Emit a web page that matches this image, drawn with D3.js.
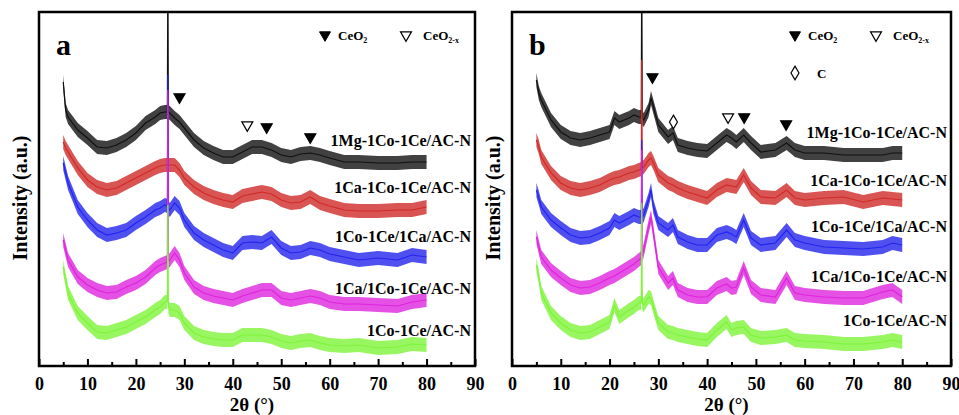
<!DOCTYPE html>
<html>
<head>
<meta charset="utf-8">
<script src="https://cdn.jsdelivr.net/npm/d3@7"></script>
<style>
  body { margin: 0; background: #fff; }
  text { font-family: "Liberation Serif", "Times New Roman", serif; font-weight: bold; }
</style>
</head>
<body>
<div class="chart"></div>
<script>
// 2theta grids (deg)
var thetaA = [5, 5.5, 6, 8, 10, 12, 14, 16, 18, 20, 22, 24, 25, 26, 26.5, 26.6, 26.7, 27, 28, 29,
  30, 32, 34, 36, 38, 40, 42, 44, 46, 48, 50, 52, 54, 56, 58, 60, 63, 66, 70, 74, 77, 80]
var thetaB = [5, 5.5, 6, 8, 10, 12, 14, 16, 18, 20, 21, 22, 24, 25, 26, 26.5, 26.6, 26.7, 27, 28,
  28.5, 29, 30, 32, 33, 34, 36, 38, 40, 42, 44, 45, 46, 47.5, 49, 51, 54, 56.3, 58, 60, 64, 68, 72, 76, 78, 80]

var seriesNames = ['1Mg-1Co-1Ce/AC-N', '1Ca-1Co-1Ce/AC-N', '1Co-1Ce/1Ca/AC-N', '1Ca/1Co-1Ce/AC-N', '1Co-1Ce/AC-N']
var seriesColors = ['#111111', '#d02a28', '#2424ee', '#de24de', '#7ef43a']

// stacked intensities (a.u., offsets included), panel a
var mgA = [284, 256, 249, 236, 228, 219, 218, 221, 226, 233, 243, 249, 253, 254, 254, 420, 254, 253, 248, 244,
  238, 226, 218, 213, 209, 209, 214, 219, 219, 216, 211, 209, 212, 213, 211, 208, 204, 204, 203, 203, 204, 204]
var caA = [224, 218, 214, 198, 186, 179, 176, 178, 183, 188, 193, 198, 200, 201, 201, 266, 201, 201, 201, 196,
  188, 179, 173, 169, 166, 164, 170, 172, 174, 172, 166, 163, 164, 169, 163, 160, 156, 155, 155, 156, 156, 159]
var coCaA = [203, 193, 183, 159, 146, 136, 131, 133, 136, 143, 149, 156, 158, 161, 160, 291, 158, 156, 163, 158,
  146, 133, 126, 121, 116, 113, 123, 124, 123, 129, 118, 113, 114, 118, 116, 112, 109, 106, 108, 106, 111, 109]
var caCoA = [126, 116, 106, 89, 81, 76, 73, 74, 79, 83, 89, 98, 101, 103, 104, 276, 105, 106, 113, 106,
  93, 79, 73, 70, 68, 66, 70, 73, 76, 76, 68, 66, 68, 70, 68, 64, 62, 62, 61, 60, 64, 66]
var coA = [99, 86, 73, 53, 43, 34, 33, 36, 39, 44, 49, 56, 59, 64, 64, 161, 60, 56, 56, 53,
  43, 33, 29, 27, 26, 26, 31, 31, 31, 29, 25, 23, 25, 26, 23, 21, 20, 21, 18, 19, 22, 21]

// panel b
var mgB = [286, 273, 266, 246, 234, 228, 226, 228, 231, 234, 248, 244, 248, 251, 249, 249, 420, 248, 246, 256,
  268, 259, 241, 229, 233, 221, 218, 216, 215, 223, 231, 228, 224, 231, 223, 214, 216, 223, 216, 213, 213, 211, 211, 211, 213, 213]
var caB = [226, 219, 209, 193, 183, 178, 176, 178, 181, 186, 188, 189, 193, 194, 196, 197, 306, 198, 199, 206,
  208, 203, 191, 183, 181, 178, 174, 171, 168, 176, 181, 180, 179, 191, 178, 169, 168, 176, 168, 166, 168, 169, 164, 168, 167, 166]
var coCaB = [176, 168, 159, 146, 138, 131, 128, 129, 133, 138, 146, 143, 148, 151, 149, 149, 226, 149, 151, 166,
  176, 159, 143, 136, 141, 129, 124, 121, 121, 131, 134, 132, 129, 146, 128, 121, 123, 136, 126, 123, 119, 118, 117, 119, 123, 121]
var caCoB = [129, 119, 109, 96, 88, 81, 78, 79, 83, 88, 90, 93, 99, 102, 106, 108, 216, 110, 116, 139,
  149, 133, 99, 83, 88, 76, 71, 69, 69, 78, 82, 78, 79, 98, 79, 71, 69, 88, 73, 71, 69, 68, 68, 74, 76, 69]
var coB = [101, 89, 73, 53, 43, 36, 33, 34, 39, 44, 61, 49, 56, 59, 63, 63, 163, 63, 61, 69,
  68, 59, 43, 34, 33, 31, 29, 27, 26, 36, 44, 36, 38, 39, 31, 28, 29, 31, 26, 25, 24, 22, 22, 24, 26, 24]

var noiseSpread = 7   // half-width of the noisy trace, a.u.

// where the sample names sit (a.u. on the stacked scale)
var labelLevelA = [226, 179, 130, 78, 36]
var labelLevelB = [234, 186, 140, 90, 46]

// peak markers: kind f = CeO2, o = CeO2-x, d = C
var peaksA = [{x: 29, y: 269, kind: 'f'}, {x: 43, y: 241, kind: 'o'}, {x: 47, y: 239, kind: 'f'}, {x: 56, y: 229, kind: 'f'}]
var peaksB = [{x: 28.8, y: 289, kind: 'f'}, {x: 33.1, y: 244, kind: 'd'}, {x: 44.3, y: 249, kind: 'o'},
  {x: 47.6, y: 249, kind: 'f'}, {x: 56.2, y: 242, kind: 'f'}]

var xTicks = [0, 10, 20, 30, 40, 50, 60, 70, 80, 90]
var xMinor = [5, 15, 25, 35, 45, 55, 65, 75, 85]

var svg = d3.select('.chart').append('svg')
  .attr('width', 959)
  .attr('height', 415)

function drawPanel(p) {
  var g = svg.append('g')
  var x = d3.scaleLinear().domain([0, 90]).range([p.left, p.right])
  var y = d3.scaleLinear().domain([0, 354]).range([366, 12])

  var clipId = 'clip-' + p.letter
  svg.append('clipPath').attr('id', clipId)
    .append('rect')
    .attr('x', p.left).attr('y', 12)
    .attr('width', p.right - p.left).attr('height', 354)

  var plot = g.append('g').attr('clip-path', 'url(#' + clipId + ')')

  p.series.forEach(function (vals, i) {
    var pts = p.theta.map(function (t, j) { return [t, vals[j]] })
    var band = d3.area()
      .x(function (d) { return x(d[0]) })
      .y0(function (d) { return y(d[1] - noiseSpread) })
      .y1(function (d) { return y(d[1] + noiseSpread) })
    var line = d3.line()
      .x(function (d) { return x(d[0]) })
      .y(function (d) { return y(d[1]) })
    plot.append('path').datum(pts)
      .attr('d', band)
      .attr('fill', seriesColors[i])
      .attr('fill-opacity', 0.8)
    plot.append('path').datum(pts)
      .attr('d', line)
      .attr('fill', 'none')
      .attr('stroke', seriesColors[i])
      .attr('stroke-width', 1.2)
  })

  // frame
  g.append('rect')
    .attr('x', p.left).attr('y', 12)
    .attr('width', p.right - p.left).attr('height', 354)
    .attr('fill', 'none').attr('stroke', '#000').attr('stroke-width', 2.5)

  // bottom axis, ticks pointing inward
  var axis = d3.axisBottom(x).tickValues(xTicks).tickSize(-7).tickPadding(11)
  var ax = g.append('g').attr('transform', 'translate(0,366)').call(axis)
  ax.select('.domain').remove()
  ax.selectAll('.tick line').attr('stroke-width', 2)
  ax.selectAll('.tick text').attr('font-size', 18).attr('fill', '#000')
  g.append('g').attr('transform', 'translate(0,366)')
    .call(d3.axisBottom(x).tickValues(xMinor).tickSize(-4).tickFormat(''))
    .call(function (s) { s.select('.domain').remove() })
    .selectAll('.tick line').attr('stroke-width', 2)

  g.append('text')
    .attr('x', (p.left + p.right) / 2 - 5).attr('y', 411)
    .attr('text-anchor', 'middle').attr('font-size', 19)
    .text('2θ (°)')

  g.append('text')
    .attr('transform', 'translate(' + (p.left - 12) + ',198) rotate(-90)')
    .attr('text-anchor', 'middle').attr('font-size', 20)
    .text('Intensity (a.u.)')

  g.append('text')
    .attr('x', p.left + 17).attr('y', 55)
    .attr('font-size', 30)
    .text(p.letter)

  // sample labels
  seriesNames.forEach(function (name, i) {
    g.append('text')
      .attr('x', p.right - 4).attr('y', y(p.labels[i]))
      .attr('dy', '0.35em')
      .attr('text-anchor', 'end').attr('font-size', 16)
      .text(name)
  })

  // peak markers
  var tri = d3.symbol().type(d3.symbolTriangle).size(52)
  var dia = d3.symbol().type(d3.symbolDiamond).size(55)
  p.peaks.forEach(function (m) {
    g.append('path')
      .attr('d', m.kind === 'd' ? dia() : tri())
      .attr('transform', 'translate(' + x(m.x) + ',' + y(m.y) + ')' + (m.kind === 'd' ? '' : ' rotate(180)'))
      .attr('stroke', '#000').attr('stroke-width', 1.2)
      .attr('fill', m.kind === 'f' ? '#000' : '#fff')
  })

  // legend
  var lg = g.append('g')
  lg.append('path').attr('d', tri())
    .attr('transform', 'translate(' + (p.left + p.legX) + ',35) rotate(180)')
    .attr('fill', '#000').attr('stroke', '#000')
  var t1 = lg.append('text').attr('x', p.left + p.legX + 13).attr('y', 40).attr('font-size', 13)
  t1.append('tspan').text('CeO')
  t1.append('tspan').attr('font-size', 8).attr('dy', 3).text('2')
  lg.append('path').attr('d', tri())
    .attr('transform', 'translate(' + (p.left + p.legX + 81) + ',35) rotate(180)')
    .attr('fill', '#fff').attr('stroke', '#000').attr('stroke-width', 1.2)
  var t2 = lg.append('text').attr('x', p.left + p.legX + 98).attr('y', 40).attr('font-size', 13)
  t2.append('tspan').text('CeO')
  t2.append('tspan').attr('font-size', 8).attr('dy', 3).text('2-x')
  if (p.letter === 'b') {
    lg.append('path').attr('d', dia())
      .attr('transform', 'translate(' + (p.left + p.legX) + ',73)')
      .attr('fill', '#fff').attr('stroke', '#000').attr('stroke-width', 1.2)
    lg.append('text').attr('x', p.left + p.legX + 22).attr('y', 78).attr('font-size', 13).text('C')
  }
}

drawPanel({letter: 'a', left: 39, right: 475, theta: thetaA,
  series: [mgA, caA, coCaA, caCoA, coA], labels: labelLevelA, peaks: peaksA, legX: 286})
drawPanel({letter: 'b', left: 512, right: 951, theta: thetaB,
  series: [mgB, caB, coCaB, caCoB, coB], labels: labelLevelB, peaks: peaksB, legX: 283})
</script>
</body>
</html>
